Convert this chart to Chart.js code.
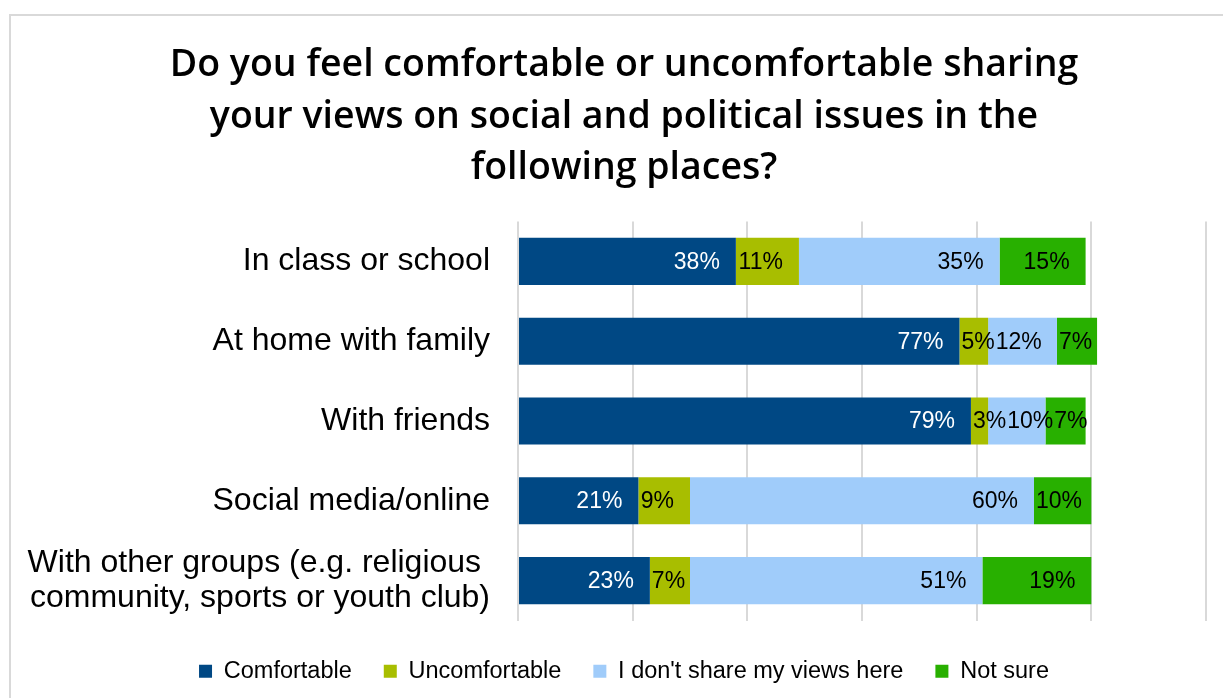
<!DOCTYPE html>
<html>
<head>
<meta charset="utf-8">
<script src="https://cdn.jsdelivr.net/npm/chart.js@4.4.1/dist/chart.umd.min.js"></script>
<style>
    html, body {
        margin: 0;
        padding: 0;
        background: #ffffff;
        overflow: hidden;
    }
    .chart-box {
        position: absolute;
        left: 9px;
        top: 14px;
        width: 1226px;
        height: 700px;
        border-left: 2px solid #d9d9d9;
        border-top: 2px solid #d9d9d9;
    }
</style>
</head>
<body>
<div class="chart-box">
    <canvas id="chart1"></canvas>
</div>
<script>
// 응답 항목과 값 (%)
const places = [
    "In class or school",
    "At home with family",
    "With friends",
    "Social media/online",
    ["With other groups (e.g. religious ", "community, sports or youth club)"],
];
const comfortable = [38, 77, 79, 21, 23];
const uncomfortable = [11, 5, 3, 9, 7];
const dontShare = [35, 12, 10, 60, 51];
const notSure = [15, 7, 7, 10, 19];
const gridTicks = [0, 20, 40, 60, 80, 100, 120];

const LABEL_FONT = "Liberation Sans, Arial, sans-serif";

// 막대 끝 안쪽에 값 표시 (앞 라벨과 겹치지 않게 밀어냄)
const barLabels = {
    id: "barLabels",
    afterDatasetsDraw(chart) {
        const ctx = chart.ctx;
        ctx.save();
        ctx.font = "23px " + LABEL_FONT;
        ctx.textBaseline = "middle";
        ctx.textAlign = "left";
        const prevRight = {};
        chart.data.datasets.forEach((ds, i) => {
            const meta = chart.getDatasetMeta(i);
            ctx.fillStyle = i === 0 ? "#ffffff" : "#000000";
            meta.data.forEach((bar, j) => {
                const text = ds.data[j] + "%";
                const w = ctx.measureText(text).width;
                let left = Math.max(bar.base + 2, bar.x - 16 - w);
                if (prevRight[j] !== undefined) {
                    left = Math.max(left, prevRight[j] + 1);
                }
                ctx.fillText(text, left, bar.y + 1);
                prevRight[j] = left + w;
            });
        });
        ctx.restore();
    },
};

const ctx1 = document.getElementById("chart1").getContext("2d");
const chart1 = new Chart(ctx1, {
    type: "bar",
    data: {
        labels: places,
        datasets: [
            { label: "Comfortable", data: comfortable, backgroundColor: "#004884" },
            { label: "Uncomfortable", data: uncomfortable, backgroundColor: "#a8be00" },
            { label: "I don't share my views here", data: dontShare, backgroundColor: "#a0ccfa" },
            { label: "Not sure", data: notSure, backgroundColor: "#28b000" },
        ],
    },
    options: {
        indexAxis: "y",
        responsive: true,
        maintainAspectRatio: false,
        animation: false,
        datasets: {
            bar: {
                categoryPercentage: 1,
                barPercentage: 0.59,
                borderWidth: 0,
            },
        },
        layout: {
            padding: { left: 0, right: 0, top: 0, bottom: 23 },
        },
        scales: {
            x: {
                stacked: true,
                min: 0,
                max: 120,
                afterBuildTicks: (scale) => {
                    scale.ticks = gridTicks.map((v) => ({ value: v }));
                },
                afterFit: (scale) => {
                    scale.height = 7;
                },
                ticks: { display: false },
                grid: {
                    color: "#d9d9d9",
                    lineWidth: 2,
                    drawTicks: false,
                },
                border: { display: false },
            },
            y: {
                stacked: true,
                afterFit: (scale) => {
                    scale.width = 507;
                },
                ticks: {
                    color: "#000000",
                    padding: 28,
                    font: { family: LABEL_FONT, size: 32, lineHeight: 1.1 },
                },
                grid: { display: false, drawTicks: false },
                border: { display: false },
            },
            // 오른쪽 여백용 빈 축
            yRight: {
                type: "linear",
                axis: "y",
                position: "right",
                afterFit: (scale) => {
                    scale.width = 31;
                },
                ticks: { display: false },
                grid: { display: false, drawTicks: false },
                border: { display: false },
            },
        },
        plugins: {
            title: {
                display: true,
                text: [
                    "Do you feel comfortable or uncomfortable sharing",
                    "your views on social and political issues in the",
                    "following places?",
                ],
                color: "#000000",
                font: {
                    family: "Open Sans, DejaVu Sans, sans-serif",
                    size: 37.5,
                    weight: 600,
                    lineHeight: 1.373,
                },
                padding: { top: 24, bottom: 27 },
            },
            legend: {
                position: "bottom",
                labels: {
                    color: "#000000",
                    boxWidth: 13,
                    boxHeight: 13,
                    padding: 32,
                    font: { family: LABEL_FONT, size: 23.5 },
                },
            },
            tooltip: { enabled: false },
        },
    },
    plugins: [barLabels],
});
</script>
</body>
</html>
